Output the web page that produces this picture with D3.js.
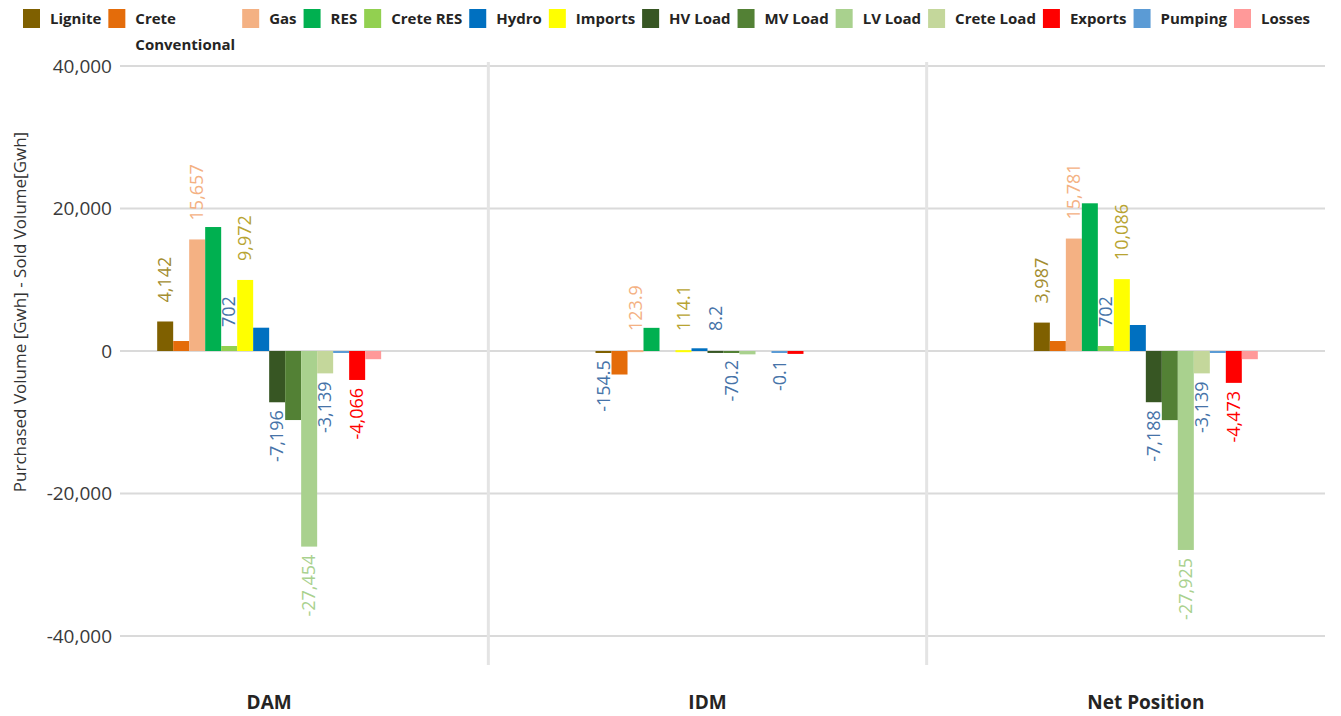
<!DOCTYPE html>
<html>
<head>
<meta charset="utf-8">
<script src="https://cdn.jsdelivr.net/npm/d3@7"></script>
<style>
body { margin: 0; background: #fff; }
svg { font-family: "Segoe UI", "Open Sans", sans-serif; }
</style>
</head>
<body>
<svg id="chart" width="1341" height="716"></svg>
<script>
var width = 1341;
var height = 716;

var markets = ["DAM", "IDM", "Net Position"];
// order of the bars inside a cluster
var series = ["Lignite", "Crete Conventional", "Gas", "RES", "Crete RES", "Imports", "Hydro",
    "HV Load", "MV Load", "LV Load", "Crete Load", "Pumping", "Exports", "Losses"];
// order of the legend entries
var legendOrder = ["Lignite", "Crete Conventional", "Gas", "RES", "Crete RES", "Hydro", "Imports",
    "HV Load", "MV Load", "LV Load", "Crete Load", "Exports", "Pumping", "Losses"];
var colors = ["#7f6000", "#e46c0a", "#f4b183", "#00b050", "#92d050", "#ffff00", "#0070c0",
    "#375623", "#538135", "#a9d18e", "#c4d79b", "#5b9bd5", "#ff0000", "#ff9999"];

var damValues = [4142, 1400, 15657, 17400, 702, 9972, 3270, -7196, -9690, -27454, -3139, -180, -4066, -1150];
var idmValues = [-154.5, -3300, 123.9, 3250, null, 114.1, 380, 8.2, -70.2, -471, null, -0.1, -407, null];
var netValues = [3987, 1400, 15781, 20730, 702, 10086, 3650, -7188, -9700, -27925, -3139, -180, -4473, -1150];

// which bars carry a data label (the others were hidden in the original)
var damLabels = ["Lignite", "Gas", "Crete RES", "Imports", "HV Load", "LV Load", "Crete Load", "Exports"];
var idmLabels = ["Lignite", "Gas", "Imports", "HV Load", "MV Load", "Pumping"];
var netLabels = ["Lignite", "Gas", "Crete RES", "Imports", "HV Load", "LV Load", "Crete Load", "Exports"];

var yTicks = [-40000, -20000, 0, 20000, 40000];

// label colours
var olive = "#a38d30", peach = "#f4b183", steel = "#4673a8", lvGreen = "#a9d18e", red = "#ff0000";
var labelColors = {
    "Lignite": olive, "Gas": peach, "Crete RES": steel, "Imports": "#b8a432",
    "HV Load": steel, "MV Load": steel, "LV Load": lvGreen, "Crete Load": steel,
    "Pumping": steel, "Exports": red
};

var valuesByMarket = { "DAM": damValues, "IDM": idmValues, "Net Position": netValues };
var labelsByMarket = { "DAM": damLabels, "IDM": idmLabels, "Net Position": netLabels };

// plain hyphen for negatives, like the original
var locale = d3.formatLocale({ decimal: ".", thousands: ",", grouping: [3], currency: ["", ""], minus: "-" });

var svg = d3.select("#chart");

var y = d3.scaleLinear().domain([-40000, 40000]).range([636, 66]);
var x0 = d3.scaleBand().domain(markets).range([50, 1365]).padding(0);
var x1 = d3.scaleBand().domain(series).range([0, x0.bandwidth()]).paddingInner(0).paddingOuter(6.7);
var color = d3.scaleOrdinal().domain(series).range(colors);

// gridlines
svg.append("g").selectAll("line").data(yTicks).enter().append("line")
    .attr("x1", 120).attr("x2", 1325)
    .attr("y1", d => y(d)).attr("y2", d => y(d))
    .style("stroke", "#dadada").style("stroke-width", 2);

// category separators
var seps = markets.slice(1).map(m => x0(m));
svg.append("g").selectAll("line").data(seps).enter().append("line")
    .attr("x1", d => d).attr("x2", d => d)
    .attr("y1", 62).attr("y2", 665)
    .style("stroke", "#e4e4e4").style("stroke-width", 3);

// y axis labels
var fmt = locale.format(",");
svg.append("g").selectAll("text").data(yTicks).enter().append("text")
    .attr("x", 112).attr("y", d => y(d))
    .attr("dy", "0.35em")
    .attr("text-anchor", "end")
    .style("font-size", "19px").style("fill", "#3a3a3a")
    .text(d => fmt(d));

svg.append("text")
    .attr("transform", "translate(20,312) rotate(-90)")
    .attr("text-anchor", "middle")
    .attr("dy", "0.35em")
    .style("font-size", "17px").style("fill", "#333")
    .text("Purchased Volume [Gwh] - Sold Volume[Gwh]");

// x axis labels
svg.append("g").selectAll("text").data(markets).enter().append("text")
    .attr("x", d => x0(d) + x0.bandwidth() / 2)
    .attr("y", 709)
    .attr("text-anchor", "middle")
    .style("font-size", "19px").style("font-weight", "bold").style("fill", "#252423")
    .text(d => d);

// bars
var rows = [];
markets.forEach(m => {
    valuesByMarket[m].forEach((v, i) => {
        if (v === null) return;
        rows.push({ market: m, name: series[i], value: v, label: labelsByMarket[m].indexOf(series[i]) >= 0 });
    });
});

var zero = y(0);
svg.append("g").selectAll("rect").data(rows).enter().append("rect")
    .attr("x", d => x0(d.market) + x1(d.name))
    .attr("width", x1.bandwidth())
    .attr("y", d => Math.min(y(d.value), zero))
    .attr("height", d => Math.max(Math.abs(y(d.value) - zero), 2))
    .attr("fill", d => color(d.name));

// data labels
var fmtInt = locale.format(",.0f"), fmtDec = locale.format(".1f");
svg.append("g").selectAll("text").data(rows.filter(d => d.label)).enter().append("text")
    .attr("transform", d => {
        var cx = x0(d.market) + x1(d.name) + x1.bandwidth() / 2;
        var cy = d.value >= 0 ? Math.min(y(d.value), zero - 1) - 19 : Math.max(y(d.value), zero + 1) + 8;
        return "translate(" + cx + "," + cy + ") rotate(-90)";
    })
    .attr("text-anchor", d => d.value >= 0 ? "start" : "end")
    .attr("dy", "0.35em")
    .style("font-size", "18px")
    .style("fill", d => (d.market === "IDM" && d.name === "Lignite") ? steel : labelColors[d.name])
    .text(d => d.market === "IDM" ? fmtDec(d.value) : fmtInt(d.value));

// legend
var legend = svg.append("g");
var lx = 23;
legendOrder.forEach(name => {
    var g = legend.append("g").attr("transform", "translate(" + lx + ",0)");
    g.append("rect").attr("x", 0).attr("y", 9).attr("width", 17).attr("height", 19)
        .attr("fill", color(name));
    var lines = name === "Crete Conventional" ? ["Crete", "Conventional"] : [name];
    var w = 0;
    lines.forEach((t, k) => {
        var txt = g.append("text").attr("x", 27).attr("y", 24 + k * 26)
            .style("font-size", "15px").style("font-weight", "bold").style("fill", "#252423")
            .text(t);
        w = Math.max(w, txt.node().getComputedTextLength());
    });
    lx += 27 + w + 7;
});
</script>
</body>
</html>
